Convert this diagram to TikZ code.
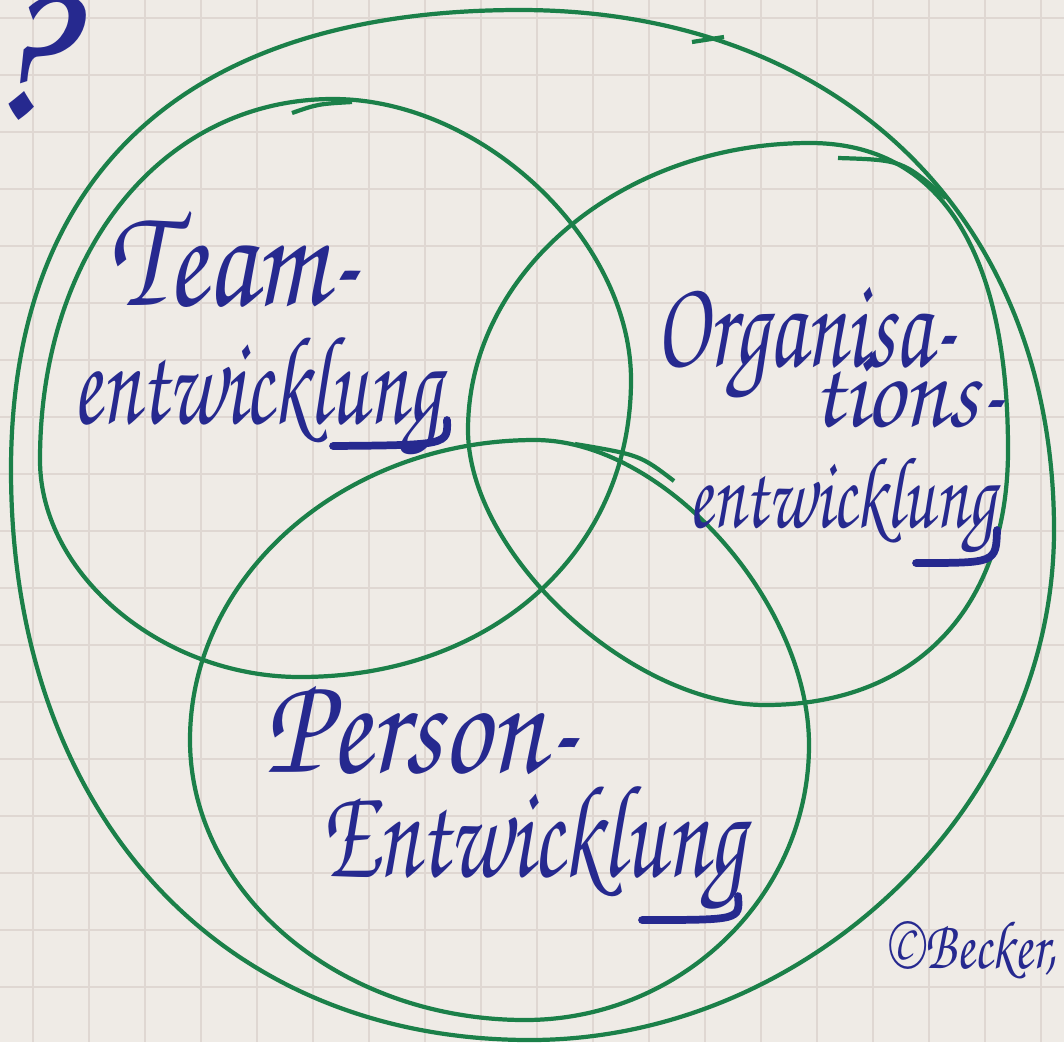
\documentclass[tikz,border=0pt]{standalone}
\usepackage{fontspec}
\newfontfamily\handfont{TeX Gyre Chorus}
\usetikzlibrary{positioning}

\definecolor{pen}{HTML}{1B8049}
\definecolor{ink}{HTML}{26298F}
\definecolor{paper}{HTML}{EFEBE6}
\definecolor{gridline}{HTML}{DFD7D2}

\newcommand{\hsz}[1]{\handfont\fontsize{#1}{#1}\selectfont}
\newcommand{\tall}[2]{\scalebox{1}[#1]{#2}}

\begin{document}
\begin{tikzpicture}[x=0.01cm,y=-0.01cm,
  ring/.style={draw=pen, line width=1.2pt},
  hand/.style={text=ink, inner sep=0pt, anchor=base west},
  gtail/.style={draw=ink, line width=2.2pt, line cap=round}]
\fill[paper] (0,0) rectangle (1064,1042);
\useasboundingbox (0,0) rectangle (1064,1042);
% squared paper
\foreach \gx in {33,89,...,1064} \draw[gridline, line width=0.6pt] (\gx,0) -- (\gx,1042);
\foreach \gy in {18,75,...,1042} \draw[gridline, line width=0.6pt] (0,\gy) -- (1064,\gy);

% outer loop
\draw[ring] (520,10) .. controls (840,10) and (1054,218) .. (1054,530)
  .. controls (1054,806) and (808,1040) .. (530,1040)
  .. controls (219,1040) and (11,812) .. (11,470)
  .. controls (11,171) and (189,10) .. (520,10) -- cycle;
\draw[ring] (692,42) .. controls (708,40) .. (724,37);

% team circle
\draw[ring] (333,99) .. controls (482,99) and (631,240) .. (631,380)
  .. controls (631,552) and (492,677) .. (300,677)
  .. controls (163,677) and (40,575) .. (40,460)
  .. controls (40,251) and (163,99) .. (333,99) -- cycle;
\draw[ring] (292,113) .. controls (318,104) .. (352,102);

% organisation circle
\draw[ring] (810,143) .. controls (939,143) and (1008,250) .. (1008,450)
  .. controls (1008,608) and (916,705) .. (765,705)
  .. controls (631,705) and (468,554) .. (468,430)
  .. controls (468,272) and (622,143) .. (810,143) -- cycle;
\draw[ring] (838,158) .. controls (902,160) .. (946,198);

% person circle
\draw[ring] (535,440) .. controls (664,440) and (809,602) .. (809,745)
  .. controls (809,896) and (681,1020) .. (525,1020)
  .. controls (341,1020) and (190,894) .. (190,740)
  .. controls (190,575) and (345,440) .. (535,440) -- cycle;
\draw[ring] (575,444) .. controls (640,455) .. (674,481);

% labels
\node[hand, font=\hsz{60}, anchor=center] (qmark) at (22,58) {?};
\node[hand, font=\hsz{33}] (team) at (108,305) {\tall{1.25}{Team-}};
\node[hand, font=\hsz{24}] (teamb) at (72,423) {\tall{1.5}{entwicklung}};
\node[hand, font=\hsz{25}] (orga) at (655,366) {\tall{1.45}{Organisa-}};
\node[hand, font=\hsz{27}] (orgb) at (812,426) {\tall{1.15}{tions-}};
\node[hand, font=\hsz{20}] (orgc) at (688,527) {\tall{1.45}{entwicklung}};
\node[hand, font=\hsz{34}] (pers) at (264,772) {\tall{1.2}{Person-}};
\node[hand, font=\hsz{26}] (persb) at (320,876) {\tall{1.45}{Entwicklung}};
\node[hand, font=\hsz{15}] (copy) at (885,968) {\tall{1.3}{©Becker,}};

% tails of the g
\draw[gtail] (447,420) .. controls (448,445) .. (333,446);
\draw[gtail] (997,530) .. controls (996,563) .. (916,563);
\draw[gtail] (738,896) .. controls (740,920) .. (642,920);
\end{tikzpicture}
\end{document}
